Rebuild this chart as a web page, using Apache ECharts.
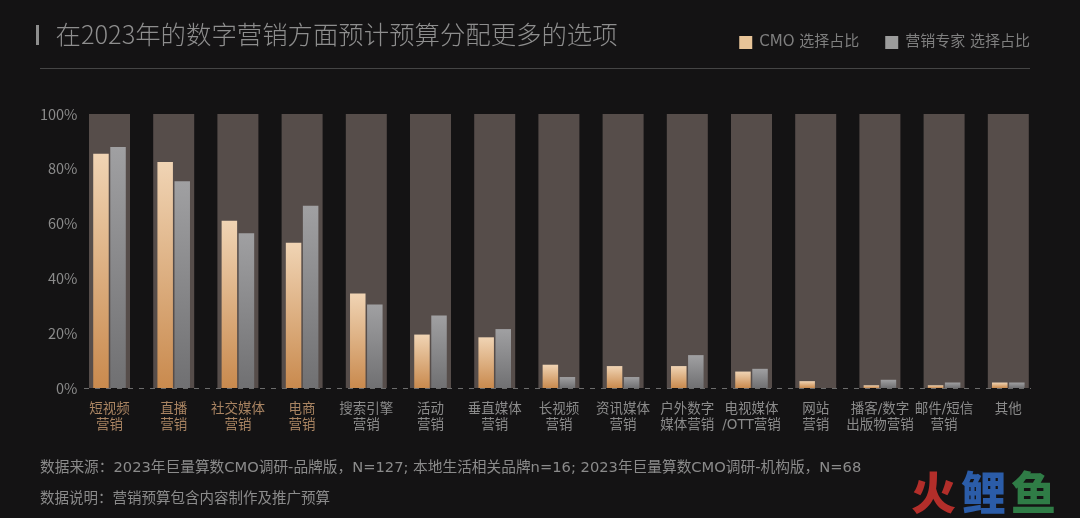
<!DOCTYPE html>
<html><head><meta charset="utf-8">
<style>html,body{margin:0;padding:0;background:#141314}#c{width:1080px;height:518px}</style>
<script src="https://cdn.jsdelivr.net/npm/echarts@6/dist/echarts.min.js"></script>
</head><body><div id="c"></div>
<script>
const categories=['短视频\n营销','直播\n营销','社交媒体\n营销','电商\n营销','搜索引擎\n营销','活动\n营销','垂直媒体\n营销','长视频\n营销','资讯媒体\n营销','户外数字\n媒体营销','电视媒体\n/OTT营销','网站\n营销','播客/数字\n出版物营销','邮件/短信\n营销','其他'];
const cmoValues=[85.5,82.5,61,53,34.5,19.5,18.5,8.5,8,8,6,2.5,1,1,2];
const expertValues=[88,75.5,56.5,66.5,30.5,26.5,21.5,4,4,12,7,0,3,2,2];
const fullValues=[100,100,100,100,100,100,100,100,100,100,100,100,100,100,100];
const yTicks=[0,20,40,60,80,100];
const seriesNames=['CMO 选择占比','营销专家 选择占比'];
const titleText='在2023年的数字营销方面预计预算分配更多的选项';
const notes=['数据来源：2023年巨量算数CMO调研-品牌版，N=127; 本地生活相关品牌n=16; 2023年巨量算数CMO调研-机构版，N=68','数据说明：营销预算包含内容制作及推广预算'];
const logoChars=['火','鲤','鱼'];

const font='"Noto Sans CJK SC","Noto Sans",sans-serif';
const wideFont='"DejaVu Sans","Noto Sans CJK SC",sans-serif';
const grey='#8b8b8b', hi='#a98462';
const grad=(a,b)=>new echarts.graphic.LinearGradient(0,0,0,1,[{offset:0,color:a},{offset:1,color:b}]);
const chart=echarts.init(document.getElementById('c'),null,{renderer:'canvas'});
chart.setOption({
  animation:false,
  backgroundColor:'#141314',
  title:{text:titleText,left:55.5,top:22,padding:0,textStyle:{color:'#8e8e8e',fontFamily:font,fontSize:25.4,fontWeight:300}},
  legend:{
    top:35,right:50,itemWidth:13,itemHeight:13,itemGap:26,icon:'rect',padding:0,
    textStyle:{color:'#7f7f7f',fontFamily:wideFont,fontSize:15,padding:[0,0,0,2]},
    data:[{name:seriesNames[0],itemStyle:{color:'#e8c498'}},{name:seriesNames[1],itemStyle:{color:'#9c9c9c'}}]
  },
  grid:{left:77.4,right:39.6,top:114,bottom:130},
  xAxis:[
    {type:'category',data:categories,axisLine:{show:false},axisTick:{show:false},
     axisLabel:{interval:0,margin:13,lineHeight:16,fontFamily:wideFont,fontSize:13.5,
       color:(v,i)=>i<4?hi:grey}},
    {type:'category',data:categories,show:false}
  ],
  yAxis:{type:'value',min:0,max:100,interval:20,splitLine:{show:false},axisLine:{show:false},axisTick:{show:false},
    axisLabel:{margin:0,fontFamily:font,fontSize:14.5,color:grey,formatter:'{value}%',customValues:yTicks}},
  series:[
    {type:'bar',name:'bg',xAxisIndex:1,data:fullValues,barWidth:41,itemStyle:{color:'#564d4a'},z:1,silent:true,
     markLine:{silent:true,symbol:'none',label:{show:false},z:3,
       lineStyle:{color:'#6c6c6c',type:[5,6],width:1.2},
       data:[[{yAxis:0,x:84},{yAxis:0,x:1031}]]}},
    {type:'bar',name:seriesNames[0],data:cmoValues,barWidth:15.5,barGap:'10%',z:2,
     itemStyle:{color:grad('#f0d4b4','#c98a4e')}},
    {type:'bar',name:seriesNames[1],data:expertValues,barWidth:15.5,z:2,
     itemStyle:{color:grad('#a0a0a2','#707072')}}
  ],
  graphic:[
    {type:'rect',shape:{x:36,y:25,width:3,height:20},style:{fill:'#8e8e8e'}},
    {type:'line',shape:{x1:40,y1:68.5,x2:1030,y2:68.5},style:{stroke:'#454545',lineWidth:1}},
    {type:'text',x:40,y:461,style:{text:notes[0],fill:grey,font:'14.7px '+wideFont}},
    {type:'text',x:40,y:492,style:{text:notes[1],fill:grey,font:'14.5px '+wideFont}},
    {type:'text',x:911,y:470,style:{text:logoChars[0],fill:'#b32e2a',font:'900 45px '+font}},
    {type:'text',x:961,y:470,style:{text:logoChars[1],fill:'#2b5ca8',font:'900 45px '+font}},
    {type:'text',x:1011,y:470,style:{text:logoChars[2],fill:'#2f7c46',font:'900 45px '+font}}
  ]
});
</script></body></html>
